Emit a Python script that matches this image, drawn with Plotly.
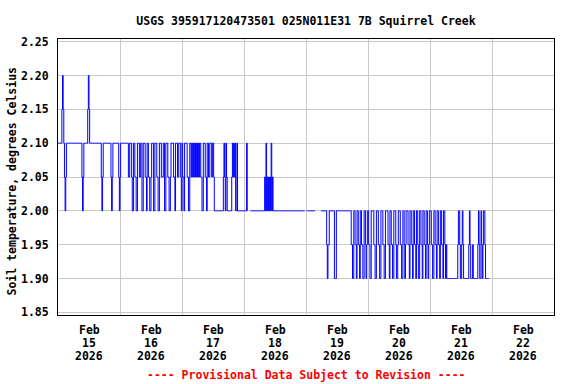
import datetime as dt
import plotly.graph_objects as go

# 15-minute readings, one code per reading: 0=1.90 1=1.95 2=2.00 3=2.05 4=2.10 5=2.15 6=2.20 .=missing
levels = {"0": 1.90, "1": 1.95, "2": 2.00, "3": 2.05, "4": 2.10, "5": 2.15, "6": 2.20}

feb15 = ["444444", "565432", "344444", "444444", "444444", "444444", "432344", "444456",
         "544444", "444444", "444444", "432344", "444444", "444432", "344444", "444432"]
feb16 = ["344444", "444444", "433444", "322443", "322444", "334422", "444332", "443322",
         "344422", "444332", "244433", "344224", "443322", "344443", "324443", "344432"]
feb17 = ["433244", "443322", "443434", "343434", "343443", "322444", "332443", "344434",
         "432222", "222222", "222234", "324322", "222223", "434342", "242222", "222222"]
feb18 = ["222242", "....22", "222222", "222222", "222222", "223242", "323232", "423222",
         "222222", "222222", "222222", "222222", "222222", "222222", "222222", "22222."]
feb19 = [".22222", "222222", "222...", ".....2", "222222", "221011", "222222", "220002",
         "222222", "222222", "222222", "222211", "002211", "022110", "221100", "221012"]
feb20 = ["211002", "222110", "022211", "002221", "100222", "211022", "110022", "210012",
         "221100", "221012", "221102", "211022", "110221", "002211", "022110", "221012"]
feb21 = ["221100", "221102", "211022", "110221", "010000", "000000", "000000", "012210",
         "012100", "000000", "121000", "100000", "001210", "021012", "210000", "00"]

day_starts = ["2026-02-15", "2026-02-16", "2026-02-17", "2026-02-18",
              "2026-02-19", "2026-02-20", "2026-02-21"]
day_codes = [feb15, feb16, feb17, feb18, feb19, feb20, feb21]

label_days = ["15", "16", "17", "18", "19", "20", "21", "22"]
y_ticks = [1.85, 1.90, 1.95, 2.00, 2.05, 2.10, 2.15, 2.20, 2.25]

times, temps = [], []
for d, chunks in zip(day_starts, day_codes):
    start = dt.datetime.fromisoformat(d)
    for i, c in enumerate("".join(chunks)):
        times.append(start + dt.timedelta(minutes=15 * i))
        temps.append(levels.get(c))

FONT = "DejaVu Sans Mono"
fig = go.Figure()
fig.add_trace(go.Scatter(x=times, y=temps, mode="lines",
                         line=dict(color="#0000FF", width=1, shape="hv"),
                         connectgaps=False, hoverinfo="skip"))

midnights = [dt.datetime(2026, 2, 15) + dt.timedelta(days=k) for k in range(9)]
fig.update_layout(
    width=576, height=384,
    margin=dict(l=58, r=22, t=39, b=69),
    paper_bgcolor="white", plot_bgcolor="white",
    showlegend=False,
    font=dict(family=FONT, size=11.5, color="black"),
    title=dict(text="<b>USGS 395917120473501 025N011E31 7B Squirrel Creek</b>",
               x=0.5, xref="paper", xanchor="center",
               y=1 - 20.5 / 384, yref="container", yanchor="middle",
               font=dict(family=FONT, size=11.5, color="black")),
    xaxis=dict(type="date", range=[midnights[0], midnights[-1]],
               tickvals=midnights, showticklabels=False, ticks="",
               showgrid=True, gridcolor="#C8C8C8", gridwidth=1,
               showline=True, linecolor="black", linewidth=1, mirror=True,
               zeroline=False, fixedrange=True),
    yaxis=dict(range=[1.846, 2.254], tickvals=y_ticks,
               ticktext=["<b>%.2f</b>" % v for v in y_ticks],
               ticks="", ticklabelstandoff=6,
               showgrid=True, gridcolor="#C8C8C8", gridwidth=1,
               showline=True, linecolor="black", linewidth=1, mirror=True,
               zeroline=False, fixedrange=True),
)

annotations = []
for k, dd in enumerate(label_days):
    noon = dt.datetime(2026, 2, 15, 12) + dt.timedelta(days=k)
    for txt, shift in (("Feb", -14.5), (dd, -27.5), ("2026", -40.5)):
        annotations.append(dict(x=noon, xref="x", y=0, yref="paper", yshift=shift,
                                text="<b>%s</b>" % txt, showarrow=False,
                                xanchor="center", yanchor="middle",
                                font=dict(family=FONT, size=11.5, color="black")))
annotations.append(dict(x=0, xref="paper", xshift=-47, y=(315.5 - 182) / 276, yref="paper",
                        text="<b>Soil temperature, degrees Celsius</b>", textangle=-90,
                        showarrow=False, xanchor="center", yanchor="middle",
                        font=dict(family=FONT, size=11.5, color="black")))
annotations.append(dict(x=0.5, xref="paper", y=0, yref="paper", yshift=-59.5,
                        text="<b>---- Provisional Data Subject to Revision ----</b>",
                        showarrow=False, xanchor="center", yanchor="middle",
                        font=dict(family=FONT, size=11.5, color="#FF0000")))
fig.update_layout(annotations=annotations)

fig.write_html("out.html", config={"displayModeBar": False},
               post_script="document.body.style.margin='0';document.body.style.overflow='hidden';")
